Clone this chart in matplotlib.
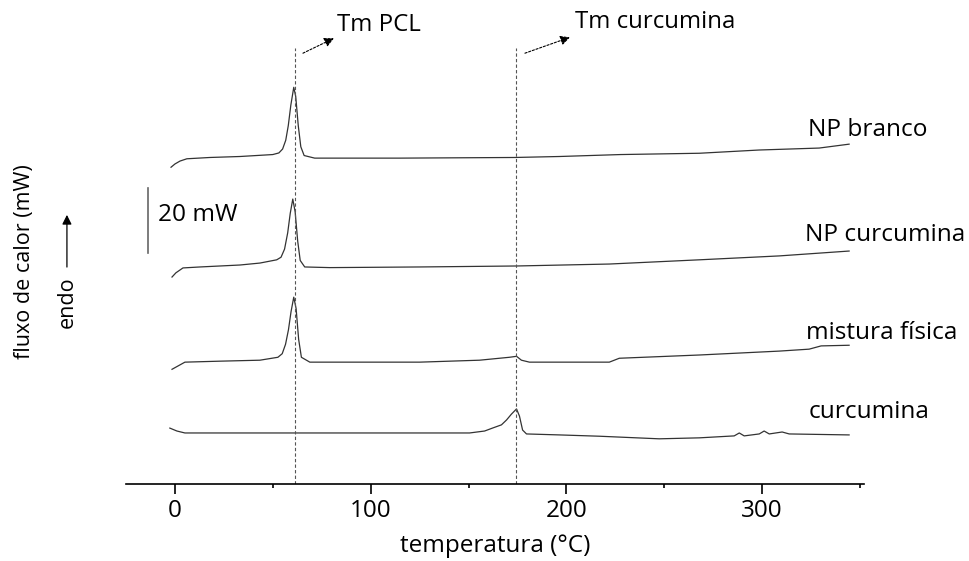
import matplotlib
matplotlib.use("Agg")
import matplotlib.pyplot as plt
from matplotlib.ticker import MultipleLocator

plt.rcParams['font.family'] = ['Open Sans', 'DejaVu Sans']

# DSC curves: temperature (°C) and heat flow (mW, relative to own baseline)
temp_branco = [-2.0, 0.0, 2.6, 6.1, 17.9, 33.2, 50.0, 53.1, 55.0, 56.6, 57.9, 59.2, 60.7,
               61.7, 63.0, 64.3, 66.0, 71.4, 114.8, 173.5, 196.4, 227.6, 267.9,
               298.5, 329.1, 344.4]
flux_branco = [-2.8, -1.8, -0.9, -0.2, 0.2, 0.5, 1.1, 1.6, 2.8, 5.5, 10.0, 16.3, 21.8,
               19.0, 10.0, 3.5, 0.8, 0.0, 0.0, 0.2, 0.5, 1.1, 1.5,
               2.5, 3.1, 4.3]

temp_np_curc = [-1.5, 0.5, 4.1, 12.8, 33.2, 43.4, 52.0, 54.2, 56.0, 57.6, 58.9, 60.2,
                61.4, 62.7, 64.0, 66.3, 79.1, 125.0, 174.5, 221.9, 267.9, 308.7,
                344.4]
flux_np_curc = [-3.1, -1.8, -0.3, 0.0, 0.6, 1.2, 2.2, 3.0, 5.5, 10.5, 16.5, 20.9,
                17.0, 8.0, 2.0, 0.0, -0.2, 0.0, 0.3, 0.9, 2.2, 3.4,
                4.9]

temp_mistura = [-1.5, 1.5, 5.1, 23.0, 43.4, 52.6, 54.8, 56.5, 58.0, 59.3, 60.7, 61.9,
                63.2, 64.6, 68.9, 94.4, 125.0, 155.6, 170.9, 174.5, 177.0, 181.1,
                221.9, 227.0, 267.9, 308.7, 324.0, 330.1, 344.4]
flux_mistura = [-2.2, -1.2, 0.0, 0.3, 0.6, 1.5, 2.6, 5.5, 10.0, 15.5, 20.0, 16.5,
                7.0, 1.5, 0.0, 0.0, 0.0, 0.6, 1.5, 1.8, 0.6, 0.0,
                0.0, 1.2, 2.2, 3.4, 4.0, 5.0, 5.2]

temp_curc = [-2.6, 1.0, 5.1, 63.8, 150.5, 158.2, 162.2, 166.8, 169.4, 171.9, 174.5,
             176.0, 177.6, 179.6, 196.4, 216.8, 247.4, 267.9, 285.7, 288.3, 290.8,
             298.5, 301.0, 303.6, 310.2, 313.8, 344.4]
flux_curc = [1.5, 0.6, 0.0, 0.0, 0.0, 0.6, 1.5, 2.5, 4.0, 5.8, 7.4,
             5.2, 0.9, -0.3, -0.6, -1.0, -1.8, -1.5, -0.9, 0.0, -0.9,
             -0.3, 0.6, -0.3, 0.3, -0.3, -0.6]

names = ['NP branco', 'NP curcumina', 'mistura física', 'curcumina']
offsets = [84.6, 51.1, 21.8, 0.0]
temps = [temp_branco, temp_np_curc, temp_mistura, temp_curc]
fluxes = [flux_branco, flux_np_curc, flux_mistura, flux_curc]
label_pos = [(323.5, 93.2), (322.0, 61.0), (322.4, 30.8), (323.5, 6.5)]

tm_pcl = 61.2
tm_curc = 174.0

fig = plt.figure(figsize=(9.7, 5.61), dpi=100)
ax = fig.add_axes([0.1299, 0.1373, 0.7608, 0.8449])

for t, f, off in zip(temps, fluxes, offsets):
    ax.plot(t, [v + off for v in f], color='#333333', lw=0.9)

for name, (x, y) in zip(names, label_pos):
    ax.text(x, y, name, fontsize=17.6, ha='left', va='center')

# melting temperature markers
for tm in (tm_pcl, tm_curc):
    ax.plot([tm, tm], [-15.7, 118.5], color='#555555', lw=0.8,
            linestyle=(0, (3, 2)))

arrow = dict(arrowstyle='-|>', color='black', lw=0.8, linestyle=(0, (2, 1.5)),
             mutation_scale=14, shrinkA=0, shrinkB=0)
ax.annotate('', xy=(81.2, 121.5), xytext=(65.4, 116.9), arrowprops=arrow)
ax.text(82.8, 125.5, 'Tm PCL', fontsize=17.3, ha='left', va='center')
ax.annotate('', xy=(201.8, 121.8), xytext=(178.8, 116.9), arrowprops=arrow)
ax.text(204.4, 126.5, 'Tm curcumina', fontsize=17.3, ha='left', va='center')

# scale bar
ax.plot([-13.8, -13.8], [55.4, 75.4], color='#666666', lw=1.2, clip_on=False)
ax.text(-8.7, 67.0, '20 mW', fontsize=17.6, ha='left', va='center')

ax.set_xlim(-25, 352)
ax.set_ylim(-15.7, 130.2)
for side in ('left', 'right', 'top'):
    ax.spines[side].set_visible(False)
ax.spines['bottom'].set_linewidth(1.2)
ax.set_yticks([])
ax.xaxis.set_major_locator(MultipleLocator(100))
ax.xaxis.set_minor_locator(MultipleLocator(50))
ax.tick_params(axis='x', which='major', length=7, width=1.2, pad=4, labelsize=17.5)
ax.tick_params(axis='x', which='minor', length=3, width=1.2)

ax.set_xlabel('temperatura (°C)', fontsize=17.5)
ax.xaxis.set_label_coords(0.5, -0.105)

ax.set_ylabel('fluxo de calor (mW)', fontsize=15.5, va='center')
ax.yaxis.set_label_coords(-0.137, 0.47)

ax.annotate('', xy=(0.069, 0.617), xytext=(0.069, 0.524), xycoords='figure fraction',
            arrowprops=dict(arrowstyle='-|>', color='black', lw=0.9, mutation_scale=14,
                            shrinkA=0, shrinkB=0))
fig.text(0.069, 1 - 302 / 561, 'endo', fontsize=15.5, rotation=90, ha='center', va='center')

fig.savefig('out.png', dpi=100)
